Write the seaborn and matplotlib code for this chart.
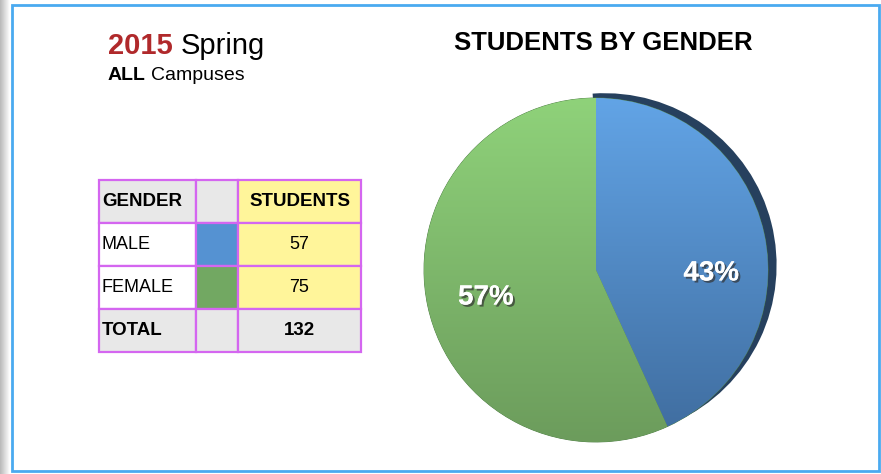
import numpy as np
import matplotlib.pyplot as plt
import matplotlib.patheffects as pe
from matplotlib.colors import LinearSegmentedColormap
from matplotlib.patches import Rectangle, Wedge
import seaborn as sns

# data
genders = ['MALE', 'FEMALE']
students = [57, 75]
total = sum(students)
slice_colors = ['#5592d2', '#72a862']
grad_top = ['#62a4e6', '#8fd27a']
grad_bottom = ['#3f6c9e', '#6c9c5c']
shadow_color = '#26405e'

sns.set_theme(style='white')
plt.rcParams['font.family'] = ['Liberation Sans', 'DejaVu Sans']
plt.rcParams['text.color'] = 'black'

W, H = 881, 474
fig = plt.figure(figsize=(W / 100, H / 100), dpi=100)


def px_axes(x, y, w, h):
    # pixel box (top-left origin) -> figure axes
    return fig.add_axes([x / W, (H - y - h) / H, w / W, h / H])


def text_pair(x, y, bold_txt, plain_txt, size, bold_color):
    # bold word followed by a regular word, placed side by side
    t1 = fig.text(x / W, 1 - y / H, bold_txt, color=bold_color, fontsize=size, fontweight='bold')
    r = fig.canvas.get_renderer()
    x2 = t1.get_window_extent(r).x1 + size * 0.38
    fig.text(x2 / W, 1 - y / H, plain_txt, color='black', fontsize=size)


# left page shadow
sh = px_axes(0, 0, 10, H)
sh.imshow(np.linspace(0.72, 1, 64)[None, :], cmap='gray', vmin=0, vmax=1,
          aspect='auto', extent=[0, 1, 0, 1])
sh.axis('off')

# blue frame
fig.patches.append(Rectangle((12 / W, 3 / H), 867 / W, 466 / H, transform=fig.transFigure,
                             fill=False, edgecolor='#4aaaf0', linewidth=2))

# heading texts
text_pair(108, 54, '2015', 'Spring', 21, '#b0292b')
text_pair(108, 80, 'ALL', 'Campuses', 14, 'black')
fig.text(603 / W, 1 - 50 / H, 'STUDENTS BY GENDER', color='black', fontsize=18.5,
         fontweight='bold', ha='center')

# table
tax = px_axes(99, 180, 262, 172)
tax.axis('off')
cell_text = [['GENDER', '', 'STUDENTS']]
for g, s in zip(genders, students):
    cell_text.append([g, '', str(s)])
cell_text.append(['TOTAL', '', str(total)])
gray, yellow = '#e8e8e8', '#fff59a'
cell_colors = [[gray, gray, yellow]]
for c in slice_colors:
    cell_colors.append(['white', c, yellow])
cell_colors.append([gray, gray, gray])
tbl = tax.table(cellText=cell_text, cellColours=cell_colors, bbox=[0, 0, 1, 1],
                colWidths=[97 / 262, 42 / 262, 123 / 262])
tbl.auto_set_font_size(False)
for (r, c), cell in tbl.get_celld().items():
    cell.set_edgecolor('#d466f0')
    cell.set_linewidth(1.6)
    t = cell.get_text()
    t.set_fontsize(13)
    t.set_color('black')
    if c == 0:
        cell.set_text_props(ha='left')
        cell.PAD = 0.03
    else:
        cell.set_text_props(ha='center')
    if r == 0 or r == len(cell_text) - 1:
        t.set_fontweight('bold')
        t.set_fontsize(13.5)

# pie
pax = px_axes(424, 98, 344, 344)
wedges, texts, autotexts = pax.pie(
    students, colors=slice_colors, startangle=90, counterclock=False,
    autopct='%1.0f%%', pctdistance=0.62,
    wedgeprops=dict(linewidth=0.6, edgecolor='#4f7f46'),
    textprops=dict(color='white', fontsize=20, fontweight='bold'))

# dark rim behind the male slice (offset up-right so it tapers off)
w0 = wedges[0]
rim = Wedge((0.05, 0.028), 1.0, w0.theta1, w0.theta2 + 4, facecolor=shadow_color,
            edgecolor='none', zorder=0.5, clip_on=False)
pax.add_patch(rim)

# vertical gradient fill for each slice
for w, top, bot in zip(wedges, grad_top, grad_bottom):
    cmap = LinearSegmentedColormap.from_list('g', [bot, top])
    im = pax.imshow(np.linspace(0, 1, 256)[:, None], cmap=cmap, origin='lower',
                    extent=[-1, 1, -1, 1], aspect='auto', zorder=1.5)
    im.set_clip_path(w)
    w.set_zorder(1)

for t in autotexts:
    t.set_zorder(3)
    t.set_path_effects([pe.withSimplePatchShadow(offset=(1.5, -1.5), shadow_rgbFace='#333333',
                                                 alpha=0.7), pe.Normal()])
autotexts[0].set_position((0.67, -0.02))
autotexts[1].set_position((-0.64, -0.16))

pax.set_xlim(-1, 1)
pax.set_ylim(-1, 1)
pax.set_aspect('equal')
pax.axis('off')

fig.savefig('out.png', dpi=100)
